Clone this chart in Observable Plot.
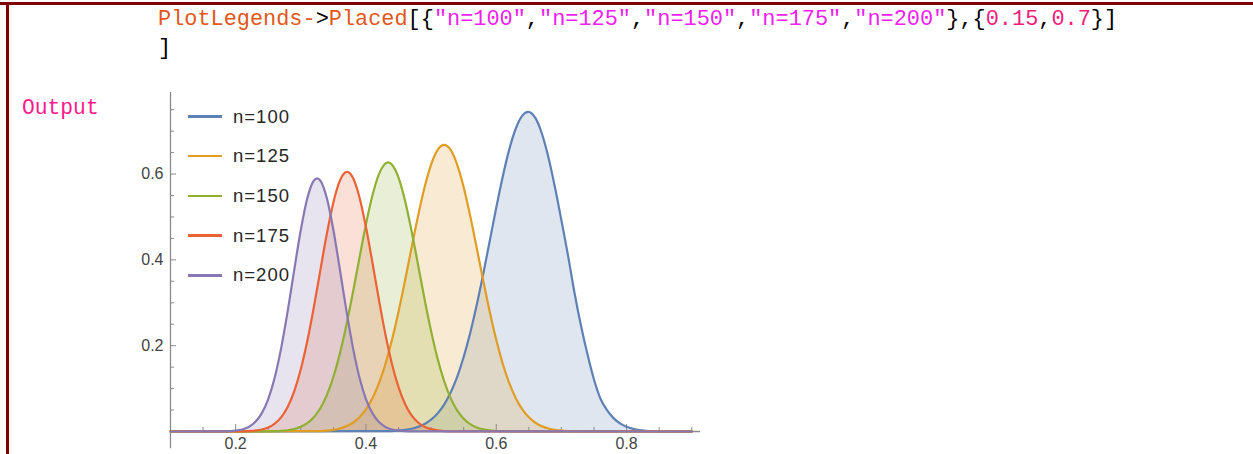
<!DOCTYPE html>
<html><head><meta charset="utf-8">
<script src="https://cdn.jsdelivr.net/npm/d3@7"></script>
<script src="https://cdn.jsdelivr.net/npm/@observablehq/plot@0.6"></script>
<style>
html,body{margin:0;padding:0;background:#fff;width:1253px;height:454px;overflow:hidden;}
#wrap{position:relative;width:1253px;height:454px;background:#fff;}
#chart{position:absolute;left:0;top:0;}
.bar{position:absolute;background:#800000;}
.code{position:absolute;font-family:"Liberation Mono","DejaVu Sans Mono",monospace;font-size:21.9px;line-height:22px;white-space:pre;color:#000;}
.kw{color:#E2571B;}
.str{color:#F020F0;}
.num{color:#F0207A;}
.out{color:#FF1A8C;}
#legend{position:absolute;left:188px;top:0;font-family:"Liberation Sans",Arial,sans-serif;font-size:18.5px;color:#262626;}
.item{position:absolute;left:0;height:22px;display:flex;align-items:center;white-space:nowrap;letter-spacing:1px;}
.sw{display:inline-block;width:34px;height:2.6px;margin-right:11px;}
</style></head><body>
<div id="wrap">
  <div id="chart"></div>
  <div class="bar" style="left:0;top:2px;width:1253px;height:3px"></div>
  <div class="bar" style="left:6px;top:2px;width:3px;height:452px"></div>
  <div class="code" style="left:158px;top:9px"><span class="kw">PlotLegends-</span>&gt;<span class="kw">Placed</span>[{<span class="str">"n=100"</span>,<span class="str">"n=125"</span>,<span class="str">"n=150"</span>,<span class="str">"n=175"</span>,<span class="str">"n=200"</span>},{<span class="num">0.15</span>,<span class="num">0.7</span>}]</div>
  <div class="code" style="left:158px;top:38px">]</div>
  <div class="code out" style="left:22px;top:96.5px;font-size:21.3px">Output</div>
  <div id="legend"></div>
</div>
<script>
const seriesNames = ["n=100", "n=125", "n=150", "n=175", "n=200"];
const seriesColors = ["#5E81B5", "#E19C24", "#8FB032", "#EB6235", "#8778B3"];

// n=100
const x100 = [0.10, 0.44, 0.45, 0.46, 0.47, 0.48, 0.49, 0.50, 0.51, 0.52, 0.53, 0.54, 0.55, 0.56, 0.57, 0.58, 0.59, 0.60, 0.61, 0.62, 0.63, 0.64, 0.649, 0.66, 0.67, 0.68, 0.69, 0.70, 0.71, 0.72, 0.73, 0.74, 0.75, 0.76, 0.77, 0.78, 0.79, 0.80, 0.81, 0.82, 0.83, 0.84, 0.85, 0.90];
const y100 = [0, 0.0011, 0.0021, 0.0037, 0.0064, 0.0107, 0.0174, 0.0275, 0.0422, 0.0628, 0.0908, 0.1274, 0.1736, 0.2295, 0.2947, 0.3671, 0.4441, 0.5214, 0.5943, 0.6575, 0.7061, 0.7361, 0.745, 0.7308, 0.6944, 0.6392, 0.5699, 0.4921, 0.4116, 0.3238, 0.2469, 0.18, 0.1212, 0.0764, 0.0497, 0.0312, 0.0189, 0.011, 0.0062, 0.0033, 0.0017, 0.0009, 0.0004, 0];
// n=125
const x125 = [0.10, 0.33, 0.34, 0.35, 0.36, 0.37, 0.38, 0.39, 0.40, 0.41, 0.42, 0.43, 0.44, 0.45, 0.46, 0.47, 0.48, 0.49, 0.50, 0.51, 0.52, 0.53, 0.54, 0.55, 0.56, 0.57, 0.58, 0.59, 0.60, 0.61, 0.62, 0.63, 0.64, 0.65, 0.66, 0.67, 0.68, 0.69, 0.70, 0.71, 0.72, 0.90];
const y125 = [0, 0.0011, 0.0021, 0.0039, 0.007, 0.0122, 0.0204, 0.033, 0.0515, 0.0775, 0.1126, 0.158, 0.2138, 0.2792, 0.352, 0.428, 0.5025, 0.5691, 0.6221, 0.6562, 0.668, 0.6562, 0.6221, 0.5691, 0.5025, 0.428, 0.352, 0.2792, 0.2138, 0.158, 0.1126, 0.0775, 0.0515, 0.033, 0.0204, 0.0122, 0.007, 0.0039, 0.0021, 0.0011, 0.0005, 0];
// n=150
const x150 = [0.10, 0.25, 0.26, 0.27, 0.28, 0.29, 0.30, 0.31, 0.32, 0.33, 0.34, 0.35, 0.36, 0.37, 0.38, 0.39, 0.40, 0.41, 0.42, 0.434, 0.44, 0.45, 0.46, 0.47, 0.48, 0.49, 0.50, 0.51, 0.52, 0.53, 0.54, 0.55, 0.56, 0.57, 0.58, 0.59, 0.60, 0.61, 0.62, 0.90];
const y150 = [0, 0.0003, 0.0007, 0.0014, 0.0029, 0.0057, 0.0108, 0.0193, 0.0331, 0.0542, 0.0849, 0.127, 0.1815, 0.2481, 0.3241, 0.4045, 0.4827, 0.5504, 0.5998, 0.627, 0.6219, 0.5917, 0.538, 0.4676, 0.3884, 0.3083, 0.2339, 0.1696, 0.1176, 0.0779, 0.0493, 0.0298, 0.0172, 0.0095, 0.005, 0.0025, 0.0012, 0.0006, 0.0002, 0];
// n=175
const x175 = [0.10, 0.21, 0.22, 0.23, 0.24, 0.25, 0.26, 0.27, 0.28, 0.29, 0.30, 0.31, 0.32, 0.33, 0.34, 0.35, 0.36, 0.371, 0.38, 0.39, 0.40, 0.41, 0.42, 0.43, 0.44, 0.45, 0.46, 0.47, 0.48, 0.49, 0.50, 0.51, 0.52, 0.53, 0.90];
const y175 = [0, 0.0004, 0.0009, 0.0022, 0.0047, 0.0095, 0.0184, 0.0336, 0.0578, 0.0942, 0.145, 0.2107, 0.2895, 0.3756, 0.4607, 0.5339, 0.5846, 0.605, 0.5913, 0.5461, 0.4767, 0.3931, 0.3063, 0.2255, 0.1569, 0.1032, 0.0641, 0.0376, 0.0209, 0.0109, 0.0054, 0.0025, 0.0011, 0.0005, 0];
// n=200
const x200 = [0.10, 0.18, 0.19, 0.20, 0.21, 0.22, 0.23, 0.24, 0.25, 0.26, 0.27, 0.28, 0.29, 0.30, 0.31, 0.32, 0.325, 0.33, 0.34, 0.35, 0.36, 0.37, 0.38, 0.39, 0.40, 0.41, 0.42, 0.43, 0.44, 0.45, 0.46, 0.47, 0.90];
const y200 = [0, 0.0003, 0.0008, 0.002, 0.0047, 0.0105, 0.0219, 0.0422, 0.0756, 0.126, 0.1955, 0.2816, 0.3772, 0.4696, 0.5435, 0.5846, 0.59, 0.5846, 0.5435, 0.4696, 0.3772, 0.2816, 0.1955, 0.126, 0.0756, 0.0422, 0.0219, 0.0105, 0.0047, 0.002, 0.0008, 0.0003, 0];

const xTicks = [0.2, 0.4, 0.6, 0.8];
const xMinorTicks = [0.15, 0.25, 0.3, 0.35, 0.45, 0.5, 0.55, 0.65, 0.7, 0.75, 0.85, 0.9];
const yTicks = [0.2, 0.4, 0.6];
const yMinorTicks = [0.05, 0.1, 0.15, 0.25, 0.3, 0.35, 0.45, 0.5, 0.55, 0.65, 0.7, 0.75];

const xsAll = [x100, x125, x150, x175, x200];
const ysAll = [y100, y125, y150, y175, y200];
const rows = [];
seriesNames.forEach((s, i) => xsAll[i].forEach((x, j) => rows.push({series: s, x, y: ysAll[i][j]})));

const xMin = 0.1, xMax = 0.9135, yMax = 0.79;
const W = 1253, H = 454, mL = 170, mR = 553, mT = 92, mB = 23;
const pxX = (xMax - xMin) / (W - mL - mR);
const pxY = yMax / (H - mT - mB);
const axisColor = "#8a8a8a";

const chart = Plot.plot({
  width: W, height: H,
  marginLeft: mL, marginRight: mR, marginTop: mT, marginBottom: mB,
  x: {domain: [xMin, xMax], label: null},
  y: {domain: [0, yMax], label: null},
  color: {domain: seriesNames, range: seriesColors},
  style: {background: "transparent", fontFamily: "'Liberation Sans', Arial, sans-serif", fontSize: "16px", color: "#444"},
  marks: [
    Plot.areaY(rows, {x: "x", y1: 0, y2: "y", z: "series", fill: "series", fillOpacity: 0.2, curve: "monotone-x"}),
    Plot.ruleY([0], {x1: xMin, x2: xMax, stroke: axisColor, strokeWidth: 1.3}),
    Plot.ruleX([xMin], {y1: -0.04, y2: yMax, stroke: axisColor, strokeWidth: 1.3}),
    Plot.ruleX(xTicks, {x: d => d, y1: 0, y2: 7 * pxY, stroke: axisColor}),
    Plot.ruleX(xMinorTicks, {x: d => d, y1: 0, y2: 4 * pxY, stroke: axisColor}),
    Plot.ruleY(yTicks, {y: d => d, x1: xMin, x2: xMin + 6 * pxX, stroke: axisColor}),
    Plot.ruleY(yMinorTicks, {y: d => d, x1: xMin, x2: xMin + 4 * pxX, stroke: axisColor}),
    Plot.line(rows, {x: "x", y: "y", z: "series", stroke: "series", strokeWidth: 2.2, curve: "monotone-x"}),
    Plot.axisX(xTicks, {tickSize: 0, tickPadding: 6, tickFormat: d => d.toFixed(1), fontSize: 16, color: "#444", label: null}),
    Plot.axisY(yTicks, {tickSize: 0, tickPadding: 7, tickFormat: d => d.toFixed(1), fontSize: 16, color: "#444", label: null})
  ]
});
document.getElementById("chart").appendChild(chart);

const legend = document.getElementById("legend");
seriesNames.forEach((s, i) => {
  const it = document.createElement("div");
  it.className = "item";
  it.style.top = (116.5 + 39.7 * i - 11) + "px";
  const sw = document.createElement("span");
  sw.className = "sw";
  sw.style.background = seriesColors[i];
  it.appendChild(sw);
  it.appendChild(document.createTextNode(s));
  legend.appendChild(it);
});
</script>
</body></html>
